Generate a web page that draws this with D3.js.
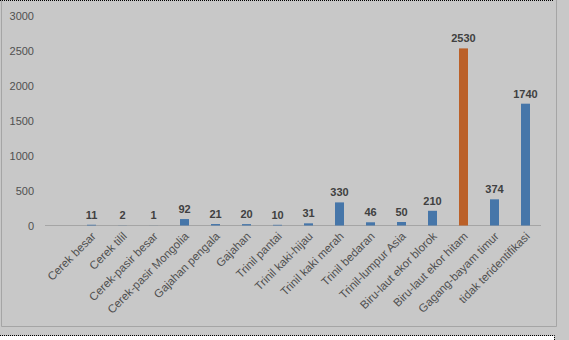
<!DOCTYPE html>
<html><head><meta charset="utf-8">
<script src="https://cdn.jsdelivr.net/npm/d3@7"></script>
<style>html,body{margin:0;padding:0;background:#c8c8c8;overflow:hidden}</style>
</head><body>
<script>
const categories = ["Cerek besar","Cerek tilil","Cerek-pasir besar","Cerek-pasir Mongolia","Gajahan pengala","Gajahan","Trinil pantai","Trinil kaki-hijau","Trinil kaki merah","Trinil bedaran","Trinil-lumpur Asia","Biru-laut ekor blorok","Biru-laut ekor hitam","Gagang-bayam timur","tidak teridentifikasi"];
const values = [11,2,1,92,21,20,10,31,330,46,50,210,2530,374,1740];
const highlight = ["Biru-laut ekor hitam"];
const yTicks = [0,500,1000,1500,2000,2500,3000];

const W = 569, H = 340;
const svg = d3.select("body").append("svg").attr("width", W).attr("height", H);
svg.append("rect").attr("width", W).attr("height", H).attr("fill", "#c8c8c8");
// white strip below frame
svg.append("rect").attr("x", 0).attr("y", 336).attr("width", 554).attr("height", 4).attr("fill", "#ffffff");
// frame
const fr = svg.append("g").attr("stroke", "#a5a5a5").attr("fill", "none");
fr.append("path").attr("d", "M1.5,0V326.5H556.5V0");
// dotted selection lines
const dot = svg.append("g").attr("stroke", "#000").attr("stroke-width", 1).attr("stroke-dasharray", "1,1").attr("fill", "none");
dot.append("path").attr("d", "M0,0.5H554");
dot.append("path").attr("d", "M0,335.5H554.5V340");

const x = d3.scaleBand().domain([""].concat(categories)).range([45, 541]).paddingInner(0.71).paddingOuter(0.355);
const y = d3.scaleLinear().domain([0, 3000]).range([225.5, 15.5]);

// y axis labels
const ya = svg.append("g").attr("transform", "translate(34,0)")
  .call(d3.axisLeft(y).tickValues(yTicks).tickSize(0).tickPadding(0).tickFormat(d3.format("d")));
ya.select(".domain").remove();
ya.selectAll("text").attr("font-family", "Liberation Sans, Arial, sans-serif").attr("font-size", 11).attr("fill", "#505050");

// baseline
svg.append("line").attr("x1", 45).attr("x2", 541).attr("y1", 225.5).attr("y2", 225.5).attr("stroke", "#a5a5a5");

// bars
svg.append("g").selectAll("rect").data(categories).join("rect")
  .attr("x", (d) => x(d))
  .attr("width", x.bandwidth())
  .attr("y", (d, i) => y(values[i]))
  .attr("height", (d, i) => y(0) - y(values[i]))
  .attr("fill", (d) => highlight.includes(d) ? "#bb6028" : "#4676a9");

// value labels
svg.append("g").selectAll("text").data(categories).join("text")
  .attr("x", (d) => x(d) + x.bandwidth() / 2)
  .attr("y", (d, i) => y(values[i]) - 6)
  .attr("text-anchor", "middle")
  .attr("font-family", "Liberation Sans, Arial, sans-serif")
  .attr("font-weight", "bold").attr("font-size", 11).attr("fill", "#404040")
  .text((d, i) => values[i]);

// category labels
svg.append("g").selectAll("text").data(categories).join("text")
  .attr("transform", (d) => `translate(${x(d) + x.bandwidth() / 2 + 5},${237}) rotate(-45)`)
  .attr("text-anchor", "end")
  .attr("font-family", "Liberation Sans, Arial, sans-serif")
  .attr("font-size", 11.5).attr("fill", "#505050")
  .text((d) => d);
</script>
</body></html>
